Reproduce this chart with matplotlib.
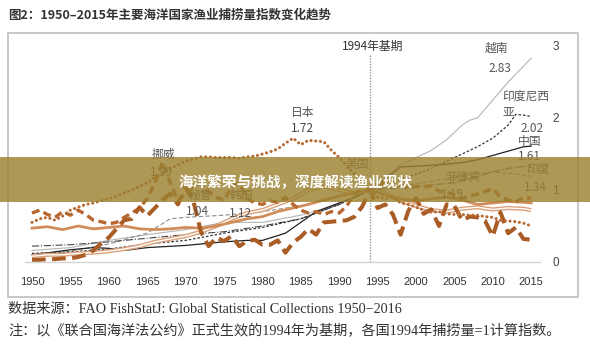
import matplotlib
matplotlib.use("Agg")
import matplotlib.pyplot as plt
from matplotlib.patches import Rectangle

plt.rcParams['font.family'] = ['Noto Sans CJK SC', 'DejaVu Sans']

# ---------------- data ----------------
years = list(range(1950, 2016))

japan = [0.55, 0.60, 0.62, 0.58, 0.64, 0.72, 0.76, 0.80, 0.82, 0.85,
         0.88, 0.92, 0.96, 1.00, 1.05, 1.10, 1.18, 1.24, 1.30, 1.35,
         1.40, 1.43, 1.46, 1.46, 1.45, 1.45, 1.45, 1.44, 1.46, 1.47,
         1.50, 1.53, 1.57, 1.65, 1.72, 1.63, 1.69, 1.68, 1.67, 1.55,
         1.45, 1.33, 1.22, 1.12, 1.00, 0.90, 0.88, 0.90, 0.82, 0.80,
         0.76, 0.72, 0.69, 0.70, 0.67, 0.66, 0.66, 0.65, 0.65, 0.63,
         0.62, 0.58, 0.57, 0.56, 0.54, 0.50]

norway = [0.68, 0.72, 0.66, 0.62, 0.70, 0.65, 0.72, 0.66, 0.58, 0.56,
          0.53, 0.55, 0.62, 0.68, 0.75, 0.88, 1.10, 1.39, 1.10, 0.85,
          0.95, 1.05, 1.10, 0.98, 0.90, 0.85, 1.05, 1.10, 0.88, 0.82,
          0.80, 0.85, 0.83, 0.90, 0.80, 0.72, 0.68, 0.70, 0.66, 0.70,
          0.68, 0.78, 0.95, 1.00, 1.00, 1.08, 1.10, 1.12, 1.08, 1.02,
          1.05, 1.04, 1.06, 0.98, 0.97, 0.93, 0.88, 0.92, 0.94, 0.98,
          1.02, 0.90, 0.86, 0.83, 0.90, 0.88]

peru = [0.03, 0.03, 0.04, 0.04, 0.05, 0.05, 0.07, 0.10, 0.16, 0.26,
        0.34, 0.46, 0.58, 0.60, 0.76, 0.64, 0.75, 0.86, 0.95, 0.80,
        1.04, 0.85, 0.42, 0.22, 0.34, 0.29, 0.36, 0.22, 0.29, 0.31,
        0.24, 0.24, 0.30, 0.13, 0.27, 0.35, 0.46, 0.38, 0.55, 0.56,
        0.57, 0.58, 0.63, 0.77, 1.00, 0.75, 0.80, 0.66, 0.38, 0.71,
        0.89, 0.67, 0.73, 0.50, 0.80, 0.78, 0.58, 0.63, 0.62, 0.57,
        0.36, 0.69, 0.40, 0.48, 0.32, 0.31]

usa_years = [1950, 1952, 1954, 1956, 1958, 1960, 1962, 1964, 1966, 1968, 1970,
             1972, 1974, 1976, 1978, 1980, 1982, 1984, 1986, 1988, 1990, 1992,
             1994, 1996, 1998, 2000, 2002, 2004, 2006, 2008, 2010, 2012, 2014, 2015]
usa = [0.47, 0.49, 0.45, 0.50, 0.46, 0.48, 0.50, 0.46, 0.45, 0.46, 0.48,
       0.47, 0.50, 0.55, 0.60, 0.63, 0.70, 0.75, 0.80, 0.86, 0.92, 0.96,
       1.00, 0.93, 0.88, 0.85, 0.88, 0.90, 0.86, 0.80, 0.82, 0.84, 0.83, 0.82]

korea_years = usa_years
korea = [0.08, 0.10, 0.10, 0.12, 0.13, 0.15, 0.18, 0.22, 0.28, 0.32, 0.36,
         0.42, 0.50, 0.60, 0.68, 0.72, 0.80, 0.88, 1.00, 1.05, 1.00, 0.95,
         1.00, 0.95, 0.85, 0.78, 0.72, 0.70, 0.74, 0.76, 0.73, 0.75, 0.74, 0.72]

vietnam_years = [1950, 1955, 1960, 1965, 1970, 1975, 1980, 1985, 1990, 1994,
                 1996, 1998, 2000, 2002, 2004, 2006, 2007, 2008, 2010, 2012, 2014, 2015]
vietnam = [0.16, 0.20, 0.30, 0.38, 0.45, 0.55, 0.55, 0.65, 0.80, 1.00,
           1.18, 1.35, 1.45, 1.55, 1.70, 1.90, 1.97, 2.00, 2.25, 2.50, 2.72, 2.83]

indonesia_years = [1950, 1955, 1960, 1965, 1970, 1975, 1980, 1985, 1990, 1994,
                   1996, 1998, 2000, 2002, 2004, 2006, 2008, 2010, 2012, 2013, 2014, 2015]
indonesia = [0.12, 0.14, 0.18, 0.25, 0.30, 0.40, 0.48, 0.60, 0.80, 1.00,
             1.08, 1.15, 1.22, 1.30, 1.40, 1.50, 1.60, 1.72, 1.90, 2.05, 2.04, 2.02]

china_years = [1950, 1955, 1958, 1960, 1962, 1965, 1970, 1975, 1978, 1980, 1983,
               1985, 1987, 1990, 1992, 1994, 1996, 1998, 2000, 2003, 2006, 2008,
               2010, 2012, 2014, 2015]
china = [0.10, 0.17, 0.20, 0.19, 0.16, 0.20, 0.23, 0.28, 0.30, 0.30, 0.40,
         0.55, 0.70, 0.82, 0.90, 1.00, 1.15, 1.32, 1.33, 1.35, 1.38, 1.42,
         1.48, 1.54, 1.60, 1.61]

india_years = [1950, 1955, 1960, 1965, 1970, 1975, 1980, 1985, 1990, 1994,
               2000, 2005, 2010, 2012, 2015]
india = [0.22, 0.24, 0.28, 0.33, 0.38, 0.42, 0.50, 0.60, 0.80, 1.00,
         1.05, 1.10, 1.25, 1.30, 1.34]

phil_years = [1950, 1955, 1960, 1965, 1968, 1970, 1975, 1980, 1985, 1990, 1994,
              1998, 2002, 2006, 2010, 2013, 2015]
philippines = [0.10, 0.15, 0.25, 0.40, 0.60, 0.62, 0.65, 0.70, 0.78, 0.90, 1.00,
               1.05, 1.12, 1.20, 1.25, 1.22, 1.19]

x_ticks = list(range(1950, 2016, 5))
y_ticks = [0, 1, 2, 3]

title = "图2：1950–2015年主要海洋国家渔业捕捞量指数变化趋势"
source = "数据来源：FAO FishStatJ: Global Statistical Collections 1950−2016"
note = "注：以《联合国海洋法公约》正式生效的1994年为基期，各国1994年捕捞量=1计算指数。"
banner = "海洋繁荣与挑战，深度解读渔业现状"

# ---------------- figure ----------------
W, H = 590, 361
fig = plt.figure(figsize=(W / 100, H / 100), dpi=100)
ax = fig.add_axes([25 / W, 99 / H, 515 / W, 226.8 / H])
ax.set_xlim(1949.09, 2016.15)
ax.set_ylim(0, 3.15)

# thin lines
ax.plot(vietnam_years, vietnam, color='#b4b4b4', lw=0.8)
ax.plot(phil_years, philippines, color='#8c8c8c', lw=0.8, linestyle=(0, (4, 2)))
ax.plot(india_years, india, color='#444444', lw=0.8, linestyle='-.')
ax.plot(china_years, china, color='#222222', lw=0.9)
ax.plot(indonesia_years, indonesia, color='#333333', lw=0.9, linestyle=(0, (2, 1.5)))

# brown / orange lines
ax.plot(korea_years, korea, color='#dba079', lw=3.0, solid_capstyle='butt')
ax.plot(korea_years, korea, color='white', lw=1.0)
ax.plot(usa_years, usa, color='#d08d5a', lw=2.0)
ax.plot(years, norway, color='#b7682f', lw=2.4, linestyle=(0, (2.4, 1.4)))
ax.plot(years, peru, color='#aa5c25', lw=2.9, linestyle=(0, (3.4, 1.6)))
ax.plot(years, japan, color='#b86a33', lw=2.2, linestyle=(0, (0.05, 1.5)),
        dash_capstyle='round')

# base year line
ax.plot([1994, 1994], [0, 2.87], color='#999999', lw=1.0, linestyle=(0, (1, 1)))
ax.text(1994.3, 3.0, "1994年基期", ha='center', va='center', fontsize=8.5, color='#333333')

# labels
lab = dict(ha='center', va='center', fontsize=8.5, color='#555555')
num = dict(ha='center', va='center', fontsize=8.5, color='#555555')
ax.text(2010.5, 2.97, "越南", **lab)
ax.text(2010.9, 2.69, "2.83", **num)
ax.text(2011.2, 2.19, "印度尼西\n亚", ha='left', va='center', fontsize=8.5,
        color='#555555', linespacing=1.25)
ax.text(2015.1, 1.86, "2.02", **num)
ax.text(2014.8, 1.68, "中国", **lab)
ax.text(2014.8, 1.46, "1.61", **num)
ax.text(2015.9, 1.28, "印度", **lab)
ax.text(2015.6, 1.04, "1.34", **num)
ax.text(2006.1, 1.17, "菲律宾", **lab)
ax.text(2004.8, 0.94, "1.19", **num)
ax.text(1992.4, 1.35, "美国", **lab)
ax.text(1985.2, 2.08, "日本", **lab)
ax.text(1985.2, 1.86, "1.72", ha='center', va='center', fontsize=8.5, color='#444444')
ax.text(1967.1, 1.49, "挪威", **lab)
ax.text(1966.8, 1.24, "1.39", **num)
ax.text(1971.9, 0.92, "秘鲁", **lab)
ax.text(1977.3, 0.92, "韩国", **lab)
ax.text(1971.6, 0.70, "1.04", **num)
ax.text(1977.2, 0.67, "1.12", **num)

# axes styling
for s in ['top', 'left', 'right']:
    ax.spines[s].set_visible(False)
ax.spines['bottom'].set_color('#d4d4d4')
ax.spines['bottom'].set_linewidth(1.0)
ax.set_xticks(x_ticks)
ax.set_xticklabels([str(v) for v in x_ticks], fontsize=8, color='#333333',
                   family=['Liberation Sans', 'DejaVu Sans'])
ax.yaxis.tick_right()
ax.set_yticks(y_ticks)
ax.set_yticklabels([str(v) for v in y_ticks], fontsize=8.5, color='#444444',
                   family=['Liberation Sans', 'DejaVu Sans'])
ax.tick_params(axis='x', length=0, pad=11)
ax.tick_params(axis='y', length=0, pad=9)
ax.patch.set_alpha(0)

# outer frame
fig.add_artist(Rectangle((8 / W, 1 - 297 / H), 570 / W, 264 / H, transform=fig.transFigure,
                         fill=False, edgecolor='#c4c4c4', lw=1.3, zorder=0.5))

# title & footer
fig.text(8 / W, 1 - 15 / H, title, ha='left', va='center', fontsize=9,
         color='#333333', weight='bold')
foot = dict(ha='left', va='center', fontsize=10.2, color='#333333',
            family=['Liberation Serif', 'Noto Sans CJK SC'])
fig.text(8 / W, 1 - 310 / H, source, **foot)
fig.text(8 / W, 1 - 331 / H, note, **foot)

# banner overlay
fig.add_artist(Rectangle((0, 1 - 202 / H), 1, 45 / H, transform=fig.transFigure,
                         facecolor=(155 / 255, 129 / 255, 49 / 255), alpha=0.82,
                         edgecolor='none', zorder=5))
fig.text(295 / W, 1 - 182 / H, banner, ha='center', va='center', fontsize=10.5,
         color='white', weight='bold', zorder=6)

fig.savefig("out.png", dpi=100)
